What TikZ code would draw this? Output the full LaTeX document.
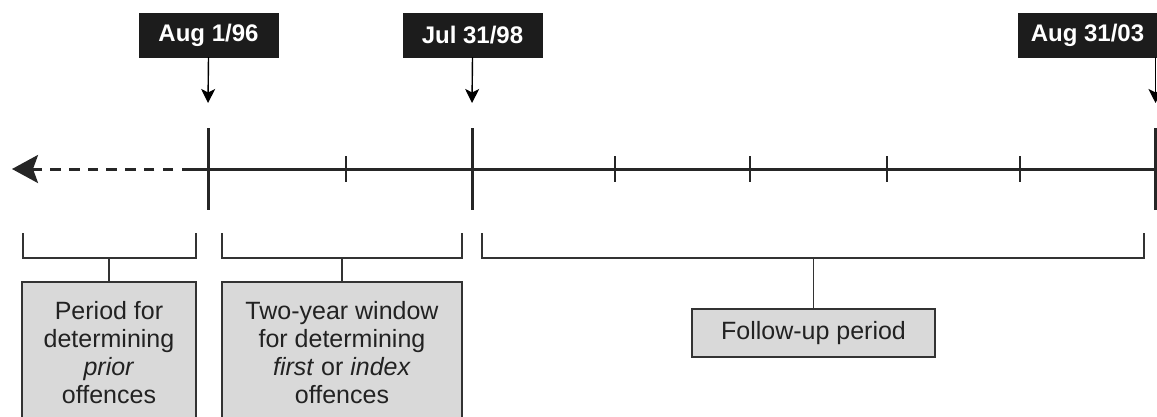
\documentclass[tikz,border=0pt]{standalone}
\usepackage{fontspec}
\setmainfont{Liberation Sans}
\usetikzlibrary{arrows.meta}
\definecolor{datebg}{HTML}{1C1C1C}
\definecolor{boxfill}{HTML}{D9D9D9}
\definecolor{linegray}{HTML}{333333}
\definecolor{textgray}{HTML}{222222}
\begin{document}
\begin{tikzpicture}[x=1pt,y=-1pt,
  datebox/.style={fill=datebg,draw=datebg,text=white,minimum width=139pt,minimum height=44pt,
    inner sep=0pt,font=\fontsize{24}{28}\selectfont\bfseries},
  datearrow/.style={draw=black,line width=1.4pt,-{Stealth[length=14pt,width=14pt,inset=3.5pt]}},
  majortick/.style={line width=3pt,draw=black!85},
  minortick/.style={line width=1.5pt,draw=black!85},
  axisline/.style={line width=3pt,draw=black!85},
  bracketline/.style={line width=1.5pt,draw=linegray},
  graybox/.style={fill=boxfill,draw=linegray,line width=1.5pt,text=textgray,inner sep=0pt,
    align=center,font=\fontsize{25}{28}\selectfont}]
\useasboundingbox (0,0) rectangle (1157,416);
\begin{scope}
\clip (0,0) rectangle (1157,416);
% date labels
\node[datebox] (d1) at (208.5,35) {Aug 1/96};
\node[datebox] (d2) at (472.5,35) {Jul 31/98};
\node[datebox] (d3) at (1087.5,35) {Aug 31/03};
% arrow targets
\coordinate (t1) at (208,103);
\coordinate (t2) at (472,103);
\coordinate (s3) at (1155.5,57);
\coordinate (t3) at (1155.5,103);
\draw[datearrow] (d1.south) -- (t1);
\draw[datearrow] (d2.south) -- (t2);
\draw[datearrow] (s3) -- (t3);
% timeline
\coordinate (axL) at (182,169);
\coordinate (dashStart) at (173,169);
\coordinate (axR) at (1156,169);
\coordinate (axTip) at (12,169);
\draw[axisline] (axL) -- (axR);
\draw[line width=3pt,draw=black!85,dash pattern=on 10.5pt off 8.2pt,
  -{Stealth[length=26pt,width=28pt,inset=5pt]}] (dashStart) -- (axTip);
% major ticks
\foreach \x in {208,472,1155}{\draw[majortick] (\x,128) -- (\x,210);}
% minor ticks
\foreach \x in {346,615,750,887,1020}{\draw[minortick] (\x,156) -- (\x,182);}
% boxes
\node[graybox,minimum width=174pt,minimum height=142pt,anchor=north] (b1) at (109,281)
  {Period for\\determining\\\textit{prior}\\offences};
\node[graybox,minimum width=240pt,minimum height=142pt,anchor=north] (b2) at (342,281)
  {Two-year window\\for determining\\\textit{first} or \textit{index}\\offences};
\node[graybox,minimum width=243pt,minimum height=48pt] (b3) at (813.5,333) {Follow-up period};
% brackets
\coordinate (m1) at (109,258);
\coordinate (m2) at (342,258);
\coordinate (m3) at (813.5,258);
\draw[bracketline] (23,233) -- (23,258) -- (196,258) -- (196,233);
\draw[bracketline] (222,233) -- (222,258) -- (462,258) -- (462,233);
\draw[bracketline] (482,233) -- (482,258) -- (1144,258) -- (1144,233);
\draw[bracketline] (m1) -- (b1.north);
\draw[bracketline] (m2) -- (b2.north);
\draw[bracketline] (m3) -- (b3.north);
\end{scope}
\end{tikzpicture}
\end{document}
